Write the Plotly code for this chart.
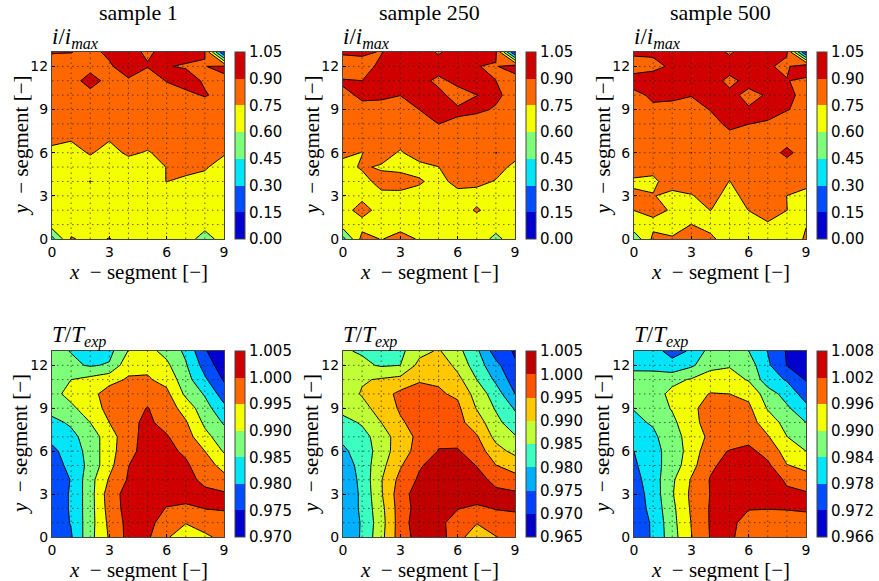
import plotly.graph_objects as go

X_SEG = list(range(10))
Y_SEG = list(range(14))
X_TICKS = [0, 3, 6, 9]
Y_TICKS = [0, 3, 6, 9, 12]

CUR_LEVELS = ["0.00", "0.15", "0.30", "0.45", "0.60", "0.75", "0.90", "1.05"]
T1_LEVELS = ["0.970", "0.975", "0.980", "0.985", "0.990", "0.995", "1.000", "1.005"]
T2_LEVELS = ["0.965", "0.970", "0.975", "0.980", "0.985", "0.990", "0.995", "1.000", "1.005"]
T3_LEVELS = ["0.966", "0.972", "0.978", "0.984", "0.990", "0.996", "1.002", "1.008"]

JET7 = ["#0000d1", "#004cff", "#00e5f8", "#7dff7a", "#f4ff00", "#ff6800", "#d10000"]
JET8 = ["#0000c8", "#0040ff", "#00b0ff", "#3affc0", "#c0ff36", "#ffc800", "#ff5500", "#c00000"]

I1 = [
    [.40,.76,.72,.755,.70,.70,.70,.68,.52,.68],
    [.68,.70,.70,.70,.70,.70,.70,.69,.66,.69],
    [.69,.70,.70,.70,.70,.70,.70,.70,.69,.70],
    [.70,.71,.71,.70,.71,.72,.70,.71,.70,.69],
    [.71,.72,.752,.72,.72,.73,.751,.73,.72,.70],
    [.72,.72,.70,.72,.69,.73,.751,.78,.76,.71],
    [.72,.71,.76,.71,.77,.74,.79,.80,.81,.76],
    [.78,.76,.80,.76,.80,.80,.82,.83,.83,.82],
    [.82,.82,.83,.82,.83,.83,.84,.84,.84,.84],
    [.83,.84,.84,.84,.84,.84,.85,.85,.82,.84],
    [.85,.85,.875,.85,.86,.86,.85,.87,.91,.86],
    [.86,.87,.93,.875,.88,.84,.905,.95,.885,.89],
    [.83,.82,.875,.88,.98,.905,.905,.89,.899,.91],
    [.91,.905,.86,.93,.92,.89,.92,.94,.901,.12],
]
I2 = [
    [.40,.80,.745,.79,.74,.70,.70,.70,.55,.70],
    [.68,.70,.70,.71,.70,.70,.70,.70,.68,.70],
    [.70,.80,.70,.71,.71,.71,.71,.76,.71,.71],
    [.71,.72,.73,.72,.72,.72,.72,.72,.72,.72],
    [.72,.72,.78,.80,.76,.72,.78,.77,.745,.72],
    [.72,.76,.74,.72,.72,.749,.80,.80,.78,.73],
    [.77,.748,.79,.74,.80,.80,.81,.81,.748,.78],
    [.80,.78,.81,.79,.82,.83,.83,.83,.80,.80],
    [.83,.83,.84,.83,.85,.901,.87,.85,.84,.83],
    [.86,.885,.86,.84,.901,.97,.93,.92,.89,.85],
    [.885,.91,.92,.902,.96,.96,.81,.899,.92,.86],
    [.91,.9005,.97,.98,.97,.85,.96,.95,.9005,.83],
    [.82,.83,.94,1.0,1.0,1.0,1.0,.902,.892,.972],
    [.92,.93,.89,1.0,1.0,.875,1.0,1.0,.92,.12],
]
I3 = [
    [.50,.78,.76,.78,.77,.70,.70,.70,.70,.76],
    [.70,.72,.71,.751,.72,.71,.72,.74,.71,.747],
    [.751,.78,.74,.72,.751,.72,.751,.79,.7505,.73],
    [.76,.755,.72,.745,.78,.72,.78,.80,.7495,.74],
    [.74,.73,.80,.79,.80,.748,.80,.80,.78,.76],
    [.78,.78,.82,.80,.82,.78,.82,.82,.84,.79],
    [.81,.82,.82,.749,.83,.82,.83,.84,.93,.84],
    [.83,.83,.84,.84,.85,.86,.85,.84,.85,.84],
    [.85,.85,.85,.85,.85,.93,.901,.89,.85,.85],
    [.86,.88,.87,.85,.905,.98,.92,.93,.905,.87],
    [.87,.92,.92,.905,.97,.96,.84,.92,.94,.85],
    [.95,1.0,.98,1.0,1.0,.84,.97,.97,.905,.87],
    [.85,.85,.93,1.0,1.0,1.0,1.0,.91,.88,1.0],
    [.92,.93,1.0,1.0,1.0,.87,1.0,1.0,.91,.12],
]
T1 = [
    [.976,.9795,.9885,.9955,1.0015,1.0008,.9955,.9925,.994,.9965],
    [.9765,.9803,.988,.9962,1.0015,1.002,.997,.9952,.9975,.998],
    [.977,.9805,.988,.997,1.002,1.003,.9997,.9988,1.0001,1.0004],
    [.977,.9805,.988,.9975,1.002,1.004,1.0025,1.0025,1.0015,1.0007],
    [.977,.9802,.9882,.9955,1.0005,1.004,1.0035,1.002,.9985,.9965],
    [.9775,.9815,.9865,.9935,.9999,1.003,1.0025,1.0008,.997,.9935],
    [.979,.982,.987,.993,.9985,1.002,1.0012,.9992,.995,.9895],
    [.9812,.9835,.9875,.9925,.9985,1.0015,1.0004,.9972,.9915,.9873],
    [.9835,.9858,.99,.995,.999,1.0008,.9985,.9955,.989,.9845],
    [.987,.989,.9925,.9965,.998,1.0002,.9975,.993,.987,.9813],
    [.9885,.9915,.9935,.997,.9965,.9975,.9962,.989,.9845,.9775],
    [.988,.99,.9915,.9935,.9955,.9955,.9935,.987,.9808,.9745],
    [.9865,.986,.9845,.9855,.9935,.994,.991,.9855,.978,.972],
    [.9865,.9848,.9825,.9835,.9902,.9915,.9885,.984,.9755,.971],
]
T2 = [
    [.9755,.9807,.9885,.9975,1.002,1.0025,.9965,.9925,.9948,.9968],
    [.976,.9805,.988,.9975,1.003,1.0015,.9975,.9952,.998,.9985],
    [.976,.981,.9885,.9975,1.002,1.003,1.0002,.9992,1.0002,1.0005],
    [.976,.981,.9895,.9978,1.0025,1.004,1.004,1.0022,1.0013,1.001],
    [.976,.9815,.9897,.9965,1.0008,1.004,1.004,1.002,.9985,.9963],
    [.977,.982,.9885,.9945,.9995,1.002,1.003,.9998,.9951,.9935],
    [.979,.9825,.987,.9932,.9965,1.0002,1.0004,.9975,.992,.9885],
    [.9812,.9835,.987,.993,.996,.999,.9985,.9955,.9885,.9855],
    [.9835,.9855,.99,.9945,.9965,.9975,.9965,.9925,.9865,.982],
    [.9865,.988,.9925,.9955,.997,.9975,.996,.9897,.9845,.9795],
    [.987,.9905,.993,.9962,.9958,.9955,.9943,.988,.9825,.975],
    [.988,.9895,.9905,.9915,.9948,.9945,.9915,.985,.979,.9725],
    [.9865,.986,.9845,.985,.9915,.9935,.9885,.9825,.9765,.9705],
    [.9855,.9845,.9825,.9838,.9885,.9905,.9865,.981,.9725,.9695],
]
T3 = [
    [.973,.979,.9875,.9958,1.0023,1.0033,.9985,.9975,.997,.9975],
    [.9735,.979,.988,.9962,1.0025,1.003,1.0005,1.0005,1.0005,1.0005],
    [.9745,.98,.9885,.9968,1.0025,1.0035,1.0022,1.0021,1.0022,1.0025],
    [.975,.9805,.9895,.9972,1.0022,1.0045,1.0045,1.0035,1.0025,1.003],
    [.976,.981,.989,.9965,1.0024,1.0045,1.0045,1.0035,1.0016,.9975],
    [.977,.982,.9865,.994,1.001,1.004,1.004,1.0032,.9962,.995],
    [.978,.982,.9865,.9925,1.0,1.0023,1.0035,.9998,.9935,.99],
    [.981,.983,.987,.993,.9972,.9985,1.0,.9965,.9901,.9865],
    [.983,.9845,.9885,.9945,.998,.9988,.9985,.993,.988,.984],
    [.9842,.9865,.9905,.9952,.9975,.998,.9972,.9895,.985,.9795],
    [.9855,.9875,.9915,.9945,.9962,.996,.9945,.987,.9815,.9755],
    [.9848,.9855,.9885,.9905,.9935,.9925,.9895,.9805,.9775,.9715],
    [.9835,.983,.9795,.983,.988,.9895,.987,.979,.9718,.969],
    [.9825,.9795,.9765,.9785,.9865,.988,.984,.9778,.9715,.9665],
]

W, H = 879, 581
SERIF = "Liberation Serif"
SANS = "DejaVu Sans"

CUR_T = "<i>i</i>/<i>i<sub>max</sub></i>"
TMP_T = "<i>T</i>/<i>T<sub>exp</sub></i>"
PANELS = [
    (I1, CUR_LEVELS, JET7, 52, 224, 52, 239, 235, CUR_T),
    (I2, CUR_LEVELS, JET7, 343, 515, 52, 239, 526, CUR_T),
    (I3, CUR_LEVELS, JET7, 634, 806, 52, 239, 817, CUR_T),
    (T1, T1_LEVELS, JET7, 52, 224, 351, 537, 235, TMP_T),
    (T2, T2_LEVELS, JET8, 343, 515, 351, 537, 526, TMP_T),
    (T3, T3_LEVELS, JET7, 634, 806, 351, 537, 817, TMP_T),
]
SAMPLES = ["sample 1", "sample 250", "sample 500"]

fig = go.Figure()
annots = []
layout = {}

grid_x, grid_y = [], []
for v in X_SEG[1:-1]:
    grid_x += [v, v, None]
    grid_y += [Y_SEG[0], Y_SEG[-1], None]
for v in Y_SEG[1:-1]:
    grid_x += [X_SEG[0], X_SEG[-1], None]
    grid_y += [v, v, None]

for n, (z, levels, colors, x0, x1, ytop, ybot, cbx, ttl) in enumerate(PANELS):
    idx = "" if n == 0 else str(n + 1)
    xa, ya = "x" + idx, "y" + idx
    lv = [float(s) for s in levels]
    size = (lv[-1] - lv[0]) / (len(lv) - 1)
    scale = []
    k = len(colors)
    for i, c in enumerate(colors):
        scale += [[i / k, c], [(i + 1) / k, c]]
    cont = dict(start=lv[0], end=lv[-1], size=size)
    fig.add_trace(go.Contour(
        x=X_SEG, y=Y_SEG, z=z, xaxis=xa, yaxis=ya, zmin=lv[0], zmax=lv[-1],
        colorscale=scale, autocontour=False,
        contours=dict(coloring="fill", showlines=False, **cont),
        line=dict(width=0, smoothing=0), hoverinfo="skip",
        colorbar=dict(
            x=cbx / W, xanchor="left", xpad=0, thickness=10, thicknessmode="pixels",
            y=1 - ybot / H, yanchor="bottom", ypad=0, len=ybot - ytop, lenmode="pixels",
            tickmode="array", tickvals=lv, ticktext=levels, ticks="",
            tickfont=dict(family=SANS, size=15, color="black"),
            outlinecolor="#444444", outlinewidth=1,
        ),
    ))
    fig.add_trace(go.Contour(
        x=X_SEG, y=Y_SEG, z=z, xaxis=xa, yaxis=ya, showscale=False, autocontour=False,
        contours=dict(coloring="none", **cont),
        line=dict(color="black", width=1, smoothing=0), hoverinfo="skip",
    ))
    fig.add_trace(go.Scatter(
        x=grid_x, y=grid_y, xaxis=xa, yaxis=ya, mode="lines", showlegend=False,
        line=dict(color="#222222", width=0.7, dash="1.5px 3.5px"), hoverinfo="skip",
    ))
    axis = dict(showgrid=False, zeroline=False, showline=True, mirror=True,
                linecolor="#444444", linewidth=1, ticks="inside", ticklen=3,
                tickcolor="black", tickmode="array",
                tickfont=dict(family=SANS, size=14, color="black"))
    layout["xaxis" + idx] = dict(axis, domain=[x0 / W, x1 / W], range=[X_SEG[0], X_SEG[-1]],
                                 tickvals=X_TICKS, anchor=ya)
    layout["yaxis" + idx] = dict(axis, domain=[1 - ybot / H, 1 - ytop / H], range=[Y_SEG[0], Y_SEG[-1]],
                                 tickvals=Y_TICKS, anchor=xa)
    mid = (x0 + x1) / 2
    base = dict(xref="paper", yref="paper", showarrow=False, font=dict(family=SERIF, size=21, color="black"))
    annots.append(dict(base, x=mid / W, y=1 - (ybot + 33) / H, xanchor="center", yanchor="middle",
                       text="<i>x</i>\u00a0\u00a0\u2212 segment [\u2212]"))
    annots.append(dict(base, x=(x0 - 32) / W, y=1 - (ytop + ybot) / 2 / H, xanchor="center", yanchor="middle",
                       textangle=-90, text="<i>y</i>\u00a0\u00a0\u2212 segment [\u2212]"))
    annots.append(dict(base, x=x0 / W, y=1 - (ytop + 2) / H, xanchor="left", yanchor="bottom", xshift=-2, text=ttl,
                       font=dict(family=SERIF, size=23, color="black")))
    if n < 3:
        annots.append(dict(base, x=mid / W, y=1 - 13 / H, xanchor="center", yanchor="middle", text=SAMPLES[n],
                           font=dict(family=SERIF, size=22, color="black")))

fig.update_layout(width=W, height=H, autosize=False, margin=dict(l=0, r=0, t=0, b=0, autoexpand=False),
                  paper_bgcolor="white", plot_bgcolor="white", showlegend=False,
                  annotations=annots, **layout)
fig.write_html("out.html", config=dict(displayModeBar=False),
               post_script="document.body.style.margin='0';")
